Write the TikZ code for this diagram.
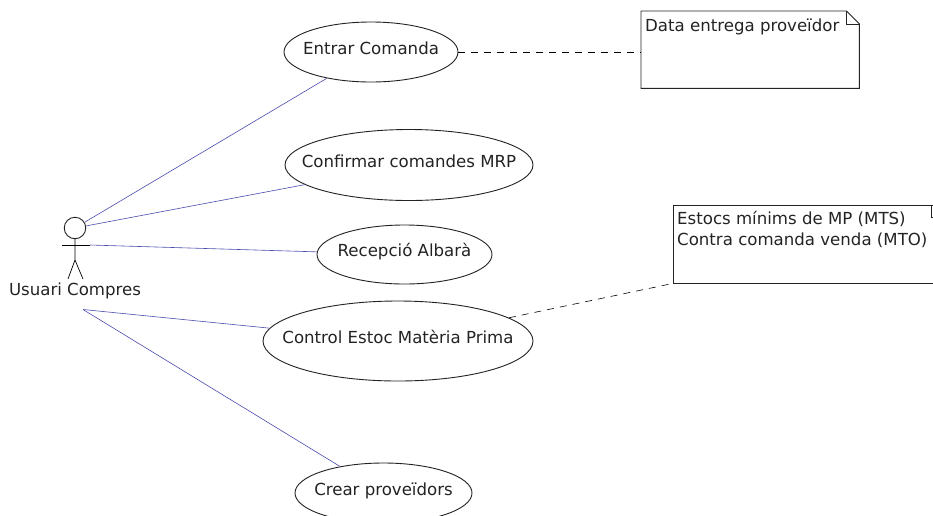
\documentclass[tikz,border=0pt]{standalone}
\usepackage{fontspec}
\setmainfont{DejaVu Sans}
\usetikzlibrary{shapes.geometric}
\definecolor{linkblue}{RGB}{75,75,175}
\definecolor{inkgrey}{RGB}{35,35,35}
\newcommand{\uctext}[1]{\raisebox{-2pt}[0pt][0pt]{\makebox[0pt]{#1}}}
\tikzset{
  every node/.style={font=\fontsize{16.6}{21}\selectfont,text=inkgrey},
  usecase/.style={draw=inkgrey,ellipse,line width=0.9pt,inner sep=0pt,fill=white},
  link/.style={draw=linkblue,line width=0.6pt},
  notelink/.style={draw=black,dash pattern=on 7pt off 6pt,line width=0.6pt},
  notebox/.style={draw=none,anchor=north west,inner sep=0pt,align=left},
  noteline/.style={draw=inkgrey,line width=0.9pt},
  figure/.style={draw=black,line width=0.7pt}
}
\begin{document}
\begin{tikzpicture}[x=1pt,y=-1pt]
\useasboundingbox (0,0) rectangle (933,515);
\clip (0,0) rectangle (933,515);
% actor
\node[circle,draw=inkgrey,line width=0.9pt,minimum size=21.5pt,inner sep=0pt] (head) at (75,228) {};
\coordinate (armL) at (61.5,245);
\coordinate (armR) at (90,245);
\coordinate (hip) at (75,260);
\coordinate (legL) at (68,279);
\coordinate (legR) at (83,279);
\node[anchor=base] (actorlabel) at (75,295) {Usuari Compres};
\coordinate (actorfoot) at (83,309.5);
% use cases
\node[usecase,minimum width=174pt,minimum height=60pt] (entrar) at (371,52) {\uctext{Entrar Comanda}};
\node[usecase,minimum width=248pt,minimum height=71pt] (confirmar) at (409,165) {\uctext{Confirmar comandes MRP}};
\node[usecase,minimum width=175pt,minimum height=59pt] (recepcio) at (404.5,254.5) {\uctext{Recepció Albarà}};
\node[usecase,minimum width=270pt,minimum height=80pt] (control) at (398,341) {\uctext{Control Estoc Matèria Prima}};
\node[usecase,minimum width=177pt,minimum height=60pt] (crear) at (383.5,493) {\uctext{Crear proveïdors}};
% notes
\node[notebox,minimum width=218pt,minimum height=77pt] (noteA) at (641,11) {};
\node[anchor=base west,inner sep=0pt] (noteAtext) at (645,31) {Data entrega proveïdor};
\node[notebox,minimum width=260pt,minimum height=78pt] (noteB) at (673,205) {};
\node[anchor=base west,inner sep=0pt,align=left] (noteBtext) at (677,245) {Estocs mínims de MP (MTS)\\Contra comanda venda (MTO)};
\draw[noteline] (noteA.north west) -- ([xshift=-13pt]noteA.north east) -- ([yshift=-13pt]noteA.north east) -- (noteA.south east) -- (noteA.south west) -- cycle;
\draw[noteline] ([xshift=-13pt]noteA.north east) -- ([xshift=-13pt,yshift=-13pt]noteA.north east) -- ([yshift=-13pt]noteA.north east);
\draw[noteline] (noteB.north east) -- (noteB.north west) -- (noteB.south west) -- (noteB.south east);
\draw[noteline] ([xshift=-2pt]noteB.north east) -- ([xshift=-2pt,yshift=-12pt]noteB.north east) -- ([yshift=-12pt]noteB.north east);
% actor figure
\draw[figure] (head.south) -- (hip) -- (legL);
\draw[figure] (hip) -- (legR);
\draw[figure] (armL) -- (armR);
% connectors
\draw[link] (head) -- (entrar);
\draw[link] (head) -- (confirmar);
\draw[link] (armR) -- (recepcio);
\draw[link] (actorfoot) -- (control);
\draw[link] (actorfoot) -- (crear);
\draw[notelink] (entrar) -- (noteA.west |- entrar);
\draw[notelink] (control) -- (noteB.south west);
\end{tikzpicture}
\end{document}
